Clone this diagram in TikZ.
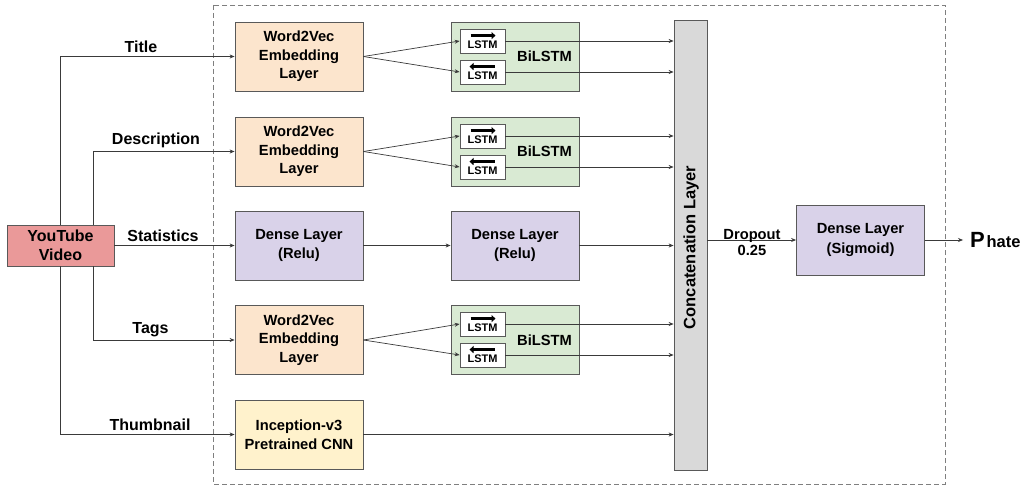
\documentclass[tikz,border=0pt]{standalone}
\usepackage{fontspec}
\setmainfont{Liberation Sans}
\usetikzlibrary{arrows.meta,calc}
\definecolor{bordercol}{HTML}{595959}
\definecolor{linecol}{HTML}{3A3A3A}
\definecolor{w2vfill}{HTML}{FCE5CD}
\definecolor{lstmfill}{HTML}{D9EAD3}
\definecolor{densefill}{HTML}{D9D2E9}
\definecolor{incfill}{HTML}{FFF2CC}
\definecolor{ytfill}{HTML}{EA9999}
\definecolor{catfill}{HTML}{D9D9D9}
\definecolor{dashcol}{HTML}{7F7F7F}
\begin{document}
\begin{tikzpicture}[x=1pt,y=-1pt,
  boxfont/.style={font=\bfseries\fontsize{14.7}{18.5}\selectfont},
  labfont/.style={font=\bfseries\fontsize{16}{19}\selectfont},
  layerbox/.style={draw=bordercol, line width=0.8pt, minimum width=128pt, minimum height=69pt, align=center, inner sep=0pt, boxfont},
  lstmbox/.style={draw=bordercol, line width=0.8pt, fill=white, minimum width=45pt, minimum height=24pt, inner sep=0pt},
  lstmtxt/.style={font=\bfseries\fontsize{11}{12}\selectfont, inner sep=0pt, anchor=base},
  arr/.style={draw=linecol, line width=0.7pt, -{Stealth[length=5pt,width=4pt]}},
  thickarr/.style={line width=2.6pt, -{Triangle[length=4pt,width=7pt]}},
  lab/.style={labfont, anchor=base, inner sep=0pt}
]
\useasboundingbox (0,0) rectangle (1032,489);
\fill[white] (0,0) rectangle (1032,489);

% dashed frame
\draw[dashcol, dashed, line width=0.8pt, dash pattern=on 5pt off 3pt] (213,5) rectangle (945,484);

% source
\node[draw=bordercol, line width=0.8pt, fill=ytfill, minimum width=107pt, minimum height=41pt, inner sep=0pt, align=center, font=\bfseries\fontsize{16}{19}\selectfont] (yt) at (60.5,245.5) {YouTube\\Video};

% first column
\node[layerbox, fill=w2vfill] (w1) at (299,56.5) {Word2Vec\\Embedding\\Layer};
\node[layerbox, fill=w2vfill] (w2) at (299,151.5) {Word2Vec\\Embedding\\Layer};
\node[layerbox, fill=densefill] (d1) at (299,245.5) {Dense Layer\\[1pt](Relu)};
\node[layerbox, fill=w2vfill] (w3) at (299,340) {Word2Vec\\Embedding\\Layer};
\node[layerbox, fill=incfill] (inc) at (299,434.5) {Inception-v3\\[1pt]Pretrained CNN};

% second column
\node[layerbox, fill=lstmfill] (b1) at (515,56.5) {};
\node[layerbox, fill=lstmfill] (b2) at (515,151.5) {};
\node[layerbox, fill=densefill] (d2) at (515,245.5) {Dense Layer\\[1pt](Relu)};
\node[layerbox, fill=lstmfill] (b3) at (515,340) {};
\foreach \b in {b1,b2,b3}{
  \node[boxfont, inner sep=0pt] (\b t) at ($(\b.center)+(29.5,0)$) {BiLSTM};
}

% LSTM cells
\foreach \n/\y/\d in {l1f/41/1, l1b/72/-1, l2f/136/1, l2b/167/-1, l3f/324/1, l3b/355/-1}{
  \node[lstmbox] (\n) at (482.5,\y) {};
  \node[lstmtxt] (\n t) at ($(\n.north)+(0,20)$) {LSTM};
  \ifnum\d=1
    \draw[thickarr] ($(\n.north)+(-12,7)$) -- ($(\n.north)+(13,7)$);
  \else
    \draw[thickarr] ($(\n.north)+(12,7)$) -- ($(\n.north)+(-13,7)$);
  \fi
}

% concatenation
\node[draw=bordercol, line width=0.8pt, fill=catfill, minimum width=33pt, minimum height=450pt, inner sep=0pt] (cat) at (690.5,245) {};
\node[rotate=90, font=\bfseries\fontsize{16.5}{18}\selectfont, inner sep=0pt] (catt) at (691,247.5) {Concatenation Layer};

% output dense
\node[draw=bordercol, line width=0.8pt, fill=densefill, minimum width=128pt, minimum height=70pt, inner sep=0pt, align=center, boxfont] (sig) at (860.5,240) {Dense Layer\\[1pt](Sigmoid)};

\node[inner sep=0pt, anchor=base west] (ph) at (970,247.5) {{\bfseries\fontsize{22}{22}\selectfont P}\,{\bfseries\fontsize{16.5}{16}\selectfont hate}};

% input branches
\coordinate (v1) at (60,0);
\coordinate (v2) at (93,0);
\draw[arr] (yt.north -| v1) |- (w1.west);
\draw[arr] (yt.north -| v2) |- (w2.west);
\draw[arr] (yt.east) -- (d1.west);
\draw[arr] (yt.south -| v2) |- (w3.west);
\draw[arr] (yt.south -| v1) |- (inc.west);

\node[lab] (lt) at (141,53) {Title};
\node[lab] (ld) at (156,145) {Description};
\node[lab] (ls) at (163,241.5) {Statistics};
\node[lab] (lg) at (150.5,333.5) {Tags};
\node[lab] (ln) at (150,430) {Thumbnail};

% embedding to LSTM
\foreach \w/\f/\bb in {w1/l1f/l1b, w2/l2f/l2b, w3/l3f/l3b}{
  \draw[arr] (\w.east) -- (\f.west);
  \draw[arr] (\w.east) -- (\bb.west);
}
% LSTM to concatenation
\foreach \n in {l1f,l1b,l2f,l2b,l3f,l3b}{
  \draw[arr] (\n.east) -- (\n.east -| cat.west);
}
\draw[arr] (d1.east) -- (d2.west);
\draw[arr] (d2.east) -- (d2.east -| cat.west);
\draw[arr] (inc.east) -- (inc.east -| cat.west);

% to output
\draw[arr] (cat.east |- sig.west) -- (sig.west);
\node[lab, font=\bfseries\fontsize{14.7}{17}\selectfont] (dr) at (752,239.5) {Dropout};
\node[lab, font=\bfseries\fontsize{14.7}{17}\selectfont] (dr2) at (752,255.5) {0.25};
\draw[arr] (sig.east) -- ([xshift=-7pt]ph.west |- sig.east);
\end{tikzpicture}
\end{document}
